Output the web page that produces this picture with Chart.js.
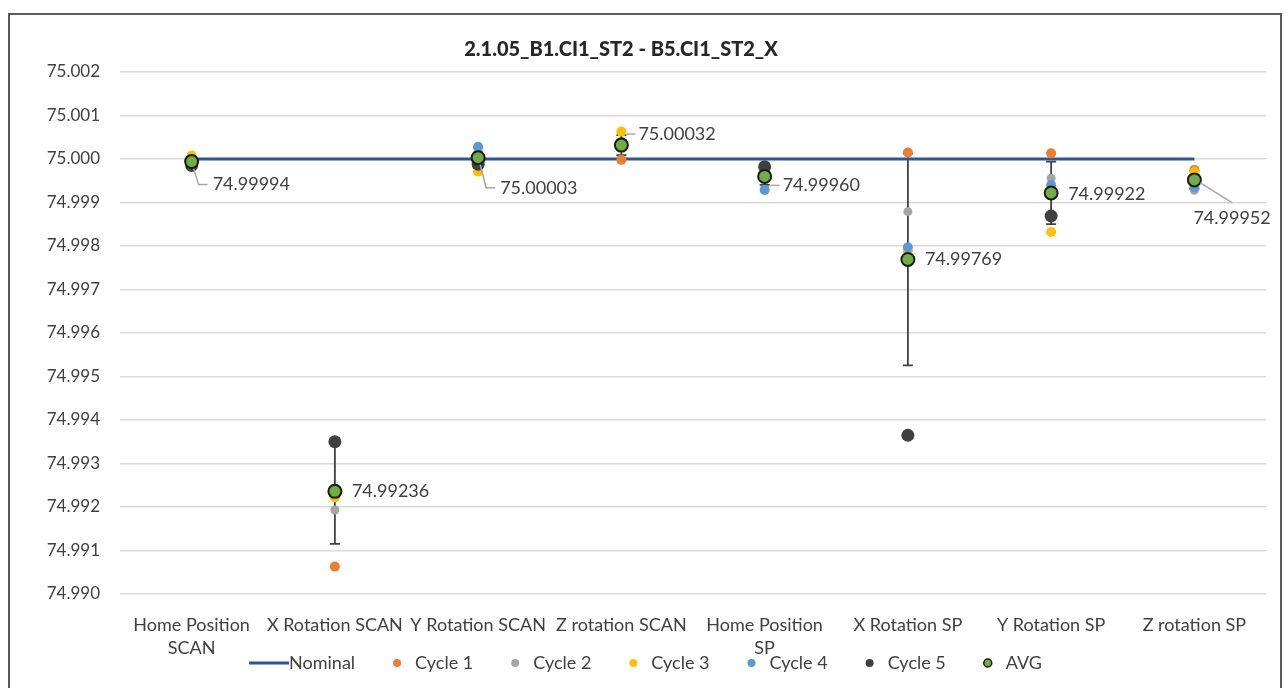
<!DOCTYPE html>
<html>
<head>
<meta charset="utf-8">
<title>2.1.05_B1.CI1_ST2 - B5.CI1_ST2_X</title>
<script src="https://cdn.jsdelivr.net/npm/chart.js@4.4.1/dist/chart.umd.min.js"></script>
<style>
  html, body { margin: 0; padding: 0; background: #fff; }
  #wrap { width: 1287px; height: 688px; }
</style>
</head>
<body>
<div id="wrap"><canvas id="posChart" width="1287" height="688"></canvas></div>
<script>
const categories = [
    ['Home Position', 'SCAN'], 'X Rotation SCAN', 'Y Rotation SCAN', 'Z rotation SCAN',
    ['Home Position', 'SP'], 'X Rotation SP', 'Y Rotation SP', 'Z rotation SP'
];
const nominal = [75, 75, 75, 75, 75, 75, 75, 75];
const cycle1 = [74.99990, 74.99063, 75.00014, 74.99998, 74.99965, 75.00015, 75.00013, 74.99975];
const cycle2 = [74.99992, 74.99193, 75.00014, 75.00030, 74.99960, 74.99879, 74.99956, 74.99928];
const cycle3 = [75.00008, 74.99222, 74.99971, 75.00063, 74.99964, 74.99789, 74.99832, 74.99970];
const cycle4 = [74.99995, 74.99352, 75.00028, 75.00034, 74.99929, 74.99797, 74.99940, 74.99935];
const cycle5 = [74.99985, 74.99350, 74.99988, 75.00035, 74.99982, 74.99365, 74.99869, 74.99952];
const avg = [74.99994, 74.99236, 75.00003, 75.00032, 74.99960, 74.99769, 74.99922, 74.99952];
const yTicks = [74.990, 74.991, 74.992, 74.993, 74.994, 74.995, 74.996, 74.997, 74.998, 74.999, 75.000, 75.001, 75.002];

const cycles = [cycle1, cycle2, cycle3, cycle4, cycle5];
const FONT = 'Lato, "Open Sans", sans-serif';
const TEXT = '#404040';

// where each AVG value label sits relative to its point, and how its leader line runs
const labelPlacement = [
    { dx: 21, dy: 23, leader: 'elbow' },
    { dx: 17, dy: 0 },
    { dx: 22, dy: 30, leader: 'elbow' },
    { dx: 17, dy: -11, leader: 'dash' },
    { dx: 18, dy: 9, leader: 'dash' },
    { dx: 17, dy: 0 },
    { dx: 17, dy: 1 },
    { dx: -1, dy: 38, leader: 'diag' }
];

function stdDev(values) {
    const m = values.reduce((a, b) => a + b, 0) / values.length;
    const ss = values.reduce((a, v) => a + (v - m) * (v - m), 0);
    return Math.sqrt(ss / (values.length - 1));
}

// outer frame and title
const frame = {
    id: 'frame',
    beforeDraw(chart) {
        const ctx = chart.ctx;
        ctx.save();
        ctx.fillStyle = '#fff';
        ctx.fillRect(0, 0, chart.width, chart.height);
        ctx.strokeStyle = '#595959';
        ctx.lineWidth = 2;
        ctx.strokeRect(9, 14, 1272, 700);
        ctx.restore();
    },
    afterDraw(chart) {
        const ctx = chart.ctx;
        ctx.save();
        ctx.font = '900 20px ' + FONT;
        ctx.fillStyle = '#262626';
        ctx.textAlign = 'center';
        ctx.textBaseline = 'middle';
        ctx.fillText('2.1.05_B1.CI1_ST2 - B5.CI1_ST2_X', 621, 50);
        ctx.restore();
    }
};

// standard deviation of the five cycles around each AVG point
const errorBars = {
    id: 'errorBars',
    beforeDatasetsDraw(chart) {
        const { ctx, scales: { x, y } } = chart;
        ctx.save();
        ctx.strokeStyle = '#404040';
        ctx.lineWidth = 1.8;
        avg.forEach((m, i) => {
            const sd = stdDev(cycles.map(c => c[i]));
            const px = x.getPixelForValue(i);
            const top = y.getPixelForValue(m + sd);
            const bot = y.getPixelForValue(m - sd);
            ctx.beginPath();
            ctx.moveTo(px, top); ctx.lineTo(px, bot);
            ctx.moveTo(px - 5, top); ctx.lineTo(px + 5, top);
            ctx.moveTo(px - 5, bot); ctx.lineTo(px + 5, bot);
            ctx.stroke();
        });
        ctx.restore();
    }
};

// AVG value labels with leader lines
const avgLabels = {
    id: 'avgLabels',
    afterDatasetsDraw(chart) {
        const ctx = chart.ctx;
        const meta = chart.getDatasetMeta(chart.data.datasets.length - 1);
        ctx.save();
        ctx.font = '18px ' + FONT;
        ctx.fillStyle = TEXT;
        ctx.textBaseline = 'middle';
        ctx.strokeStyle = '#a6a6a6';
        ctx.lineWidth = 1.5;
        meta.data.forEach((pt, i) => {
            const p = labelPlacement[i];
            const lx = pt.x + p.dx;
            const ly = pt.y + p.dy;
            ctx.beginPath();
            if (p.leader === 'elbow') {
                ctx.moveTo(pt.x + 2, pt.y + 7);
                ctx.lineTo(lx - 14, ly);
                ctx.lineTo(lx - 5, ly);
            } else if (p.leader === 'dash') {
                ctx.moveTo(lx - 12, ly);
                ctx.lineTo(lx - 3, ly);
            } else if (p.leader === 'diag') {
                ctx.moveTo(pt.x + 6, pt.y + 3);
                ctx.lineTo(lx + 39, ly - 15);
            }
            ctx.stroke();
            ctx.fillText(avg[i].toFixed(5), lx, ly);
        });
        ctx.restore();
    }
};

// legend row under the category labels
const legendRow = {
    id: 'legendRow',
    afterDraw(chart) {
        const ctx = chart.ctx;
        const sets = chart.data.datasets;
        ctx.save();
        ctx.font = '18px ' + FONT;
        ctx.textBaseline = 'middle';
        const items = sets.map((ds, i) => {
            const marker = i === 0 ? 40 : 22;
            const w = marker + ctx.measureText(ds.label).width;
            return { ds, marker, w };
        });
        const gap = 38;
        const total = items.reduce((a, it) => a + it.w, 0) + gap * (items.length - 1);
        let x = chart.width / 2 - total / 2 + 2;
        const y = 663;
        items.forEach((it, i) => {
            const ds = it.ds;
            if (i === 0) {
                ctx.strokeStyle = ds.borderColor;
                ctx.lineWidth = 3;
                ctx.beginPath();
                ctx.moveTo(x, y); ctx.lineTo(x + 40, y);
                ctx.stroke();
            } else {
                ctx.beginPath();
                ctx.arc(x + 4, y, 4, 0, Math.PI * 2);
                ctx.fillStyle = ds.pointBackgroundColor;
                ctx.fill();
                if (ds.label === 'AVG') {
                    ctx.lineWidth = 1.5;
                    ctx.strokeStyle = ds.pointBorderColor;
                    ctx.stroke();
                }
            }
            ctx.fillStyle = TEXT;
            ctx.fillText(ds.label, x + it.marker, y);
            x += it.w + gap;
        });
        ctx.restore();
    }
};

function cycleSet(label, data, color, order, radius) {
    return {
        label, data, order,
        showLine: false,
        pointRadius: radius || 5,
        pointHoverRadius: radius || 5,
        pointBackgroundColor: color,
        pointBorderColor: color,
        pointBorderWidth: 0,
        borderColor: color,
        backgroundColor: color
    };
}

const ctx = document.getElementById('posChart').getContext('2d');
const posChart = new Chart(ctx, {
    type: 'line',
    data: {
        labels: categories,
        datasets: [
            {
                label: 'Nominal',
                data: nominal,
                order: 6,
                borderColor: '#2F5597',
                backgroundColor: '#2F5597',
                borderWidth: 3,
                pointRadius: 0,
                pointHoverRadius: 0
            },
            cycleSet('Cycle 1', cycle1, '#ED7D31', 5),
            cycleSet('Cycle 2', cycle2, '#A5A5A5', 4, 4.5),
            cycleSet('Cycle 3', cycle3, '#FFC000', 3),
            cycleSet('Cycle 4', cycle4, '#5B9BD5', 2),
            cycleSet('Cycle 5', cycle5, '#404040', 1, 6.5),
            {
                label: 'AVG',
                data: avg,
                order: 0,
                showLine: false,
                pointRadius: 6.5,
                pointHoverRadius: 6.5,
                pointBackgroundColor: '#70AD47',
                pointBorderColor: '#1a1a1a',
                pointBorderWidth: 2,
                borderColor: '#70AD47',
                backgroundColor: '#70AD47'
            }
        ]
    },
    options: {
        responsive: false,
        animation: false,
        layout: { padding: { top: 72, right: 21, bottom: 0, left: 0 } },
        plugins: {
            legend: { display: false },
            title: { display: false },
            tooltip: { enabled: false }
        },
        scales: {
            x: {
                offset: true,
                grid: { display: false },
                border: { display: false },
                ticks: {
                    color: TEXT,
                    font: { family: FONT, size: 18, lineHeight: 1.28 },
                    padding: 12,
                    maxRotation: 0,
                    autoSkip: false
                },
                afterFit(scale) { scale.height = 94; }
            },
            y: {
                min: yTicks[0],
                max: yTicks[yTicks.length - 1],
                afterBuildTicks(scale) { scale.ticks = yTicks.map(v => ({ value: v })); },
                grid: { color: '#d9d9d9', lineWidth: 1.5, drawTicks: false },
                border: { display: false },
                ticks: {
                    color: TEXT,
                    font: { family: FONT, size: 17 },
                    padding: 20,
                    callback: v => Number(v).toFixed(3)
                },
                afterFit(scale) { scale.width = 120; }
            }
        }
    },
    plugins: [frame, errorBars, avgLabels, legendRow]
});
</script>
</body>
</html>
